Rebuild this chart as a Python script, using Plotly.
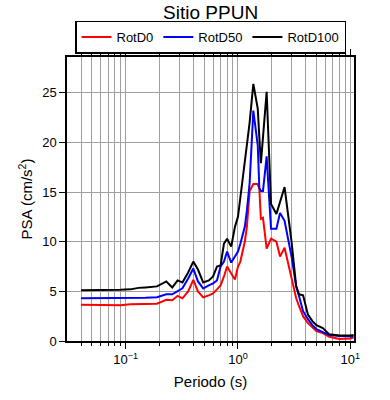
import plotly.graph_objects as go
import numpy as np

periods = [0.04, 0.06, 0.09, 0.11, 0.13, 0.15, 0.19, 0.23, 0.26, 0.29, 0.32, 0.36, 0.40, 0.44,
           0.49, 0.55, 0.60, 0.65, 0.70, 0.75, 0.80, 0.87, 0.94, 1.0, 1.05, 1.15, 1.2, 1.27,
           1.37, 1.5, 1.55, 1.6, 1.67, 1.8, 1.97, 2.2, 2.37, 2.6, 3.0, 3.3, 3.5, 3.8, 4.2,
           4.6, 5.0, 5.7, 6.5, 8.0, 10.0, 10.7]

rotd100 = [5.1, 5.1, 5.15, 5.2, 5.35, 5.4, 5.5, 6.0, 5.4, 6.1, 5.9, 6.9, 8.0, 7.2,
           5.9, 6.1, 6.5, 7.5, 7.6, 9.8, 10.3, 9.5, 11.5, 12.5, 14.5, 18.4, 20.0, 22.0,
           25.9, 23.4, 20.5, 17.9, 20.5, 25.1, 13.8, 12.8, 14.0, 15.5, 10.0, 5.5, 4.7, 4.6, 2.65,
           2.0, 1.6, 1.3, 0.67, 0.56, 0.55, 0.6]

rotd50 = [4.3, 4.3, 4.3, 4.3, 4.3, 4.35, 4.4, 4.7, 4.7, 5.0, 5.3, 6.3, 7.3, 6.0,
          5.3, 5.6, 5.8, 6.1, 7.5, 8.0, 9.0, 7.9, 8.5, 9.0, 9.8, 11.5, 13.1, 15.9,
          23.2, 19.7, 15.4, 15.1, 15.1, 18.6, 11.3, 11.3, 12.9, 12.1, 8.5, 5.5, 4.5, 3.0, 2.2,
          1.6, 1.2, 0.9, 0.6, 0.5, 0.45, 0.45]

rotd0 = [3.65, 3.65, 3.6, 3.7, 3.7, 3.75, 3.75, 4.15, 4.1, 4.55, 4.3, 5.0, 6.15, 5.0,
         4.4, 4.6, 4.8, 5.2, 5.6, 6.5, 7.5, 6.8, 6.2, 7.5, 8.0, 10.0, 11.5, 15.1,
         15.8, 15.8, 15.3, 12.3, 12.4, 9.3, 10.3, 10.0, 8.5, 9.4, 6.5, 4.3, 3.5, 2.5, 1.8,
         1.4, 1.0, 0.8, 0.43, 0.2, 0.25, 0.35]

major_ticks = [0.1, 1, 10]
major_labels = ["10<sup>−1</sup>", "10<sup>0</sup>", "10<sup>1</sup>"]
minor_ticks = [0.04, 0.05, 0.06, 0.07, 0.08, 0.09,
               0.2, 0.3, 0.4, 0.5, 0.6, 0.7, 0.8, 0.9,
               2, 3, 4, 5, 6, 7, 8, 9]
y_ticks = [0, 5, 10, 15, 20, 25]

font = "Liberation Sans, Arial, sans-serif"
grid = "#a0a0a0"

fig = go.Figure()
for name, vals, col in [("RotD0", rotd0, "#ff0000"), ("RotD50", rotd50, "#0000ff"),
                        ("RotD100", rotd100, "#000000")]:
    fig.add_trace(go.Scatter(x=periods, y=vals, mode="lines", name=name,
                             line=dict(color=col, width=2)))

fig.update_layout(
    width=390, height=400,
    margin=dict(l=67, r=36, t=57, b=55),
    paper_bgcolor="white", plot_bgcolor="white",
    font=dict(family=font, size=13, color="black"),
    title=dict(text="Sitio PPUN", x=0.54, xanchor="center", y=0.97, yanchor="middle",
               font=dict(size=19)),
    legend=dict(orientation="h", x=0.5, xanchor="center", y=1.012, yanchor="bottom",
                bordercolor="black", borderwidth=1.5, font=dict(size=13),
                itemwidth=30, tracegroupgap=0),
    showlegend=True,
)
fig.update_xaxes(
    type="log", range=[np.log10(0.03), np.log10(10.8)],
    tickvals=major_ticks, ticktext=major_labels,
    ticks="outside", ticklen=6, tickwidth=1, tickcolor="black",
    showgrid=True, gridcolor=grid, gridwidth=1,
    minor=dict(tickvals=minor_ticks, ticks="outside", ticklen=3, tickcolor="black",
               showgrid=True, gridcolor=grid, gridwidth=1),
    showline=True, linecolor="black", linewidth=1.5, mirror="allticks",
    title=dict(text="Periodo (s)", font=dict(size=15), standoff=10),
    zeroline=False,
)
fig.update_yaxes(
    range=[0, 28.6], tickvals=y_ticks,
    ticks="outside", ticklen=6, tickcolor="black",
    showgrid=True, gridcolor=grid, gridwidth=1,
    showline=True, linecolor="black", linewidth=1.5, mirror=True,
    title=dict(text="PSA (cm/s<sup>2</sup>)", font=dict(size=15), standoff=6),
    zeroline=False,
)
fig.write_html("out.html", config={"displayModeBar": False},
               post_script="document.body.style.margin='0';document.body.style.overflow='hidden';")
